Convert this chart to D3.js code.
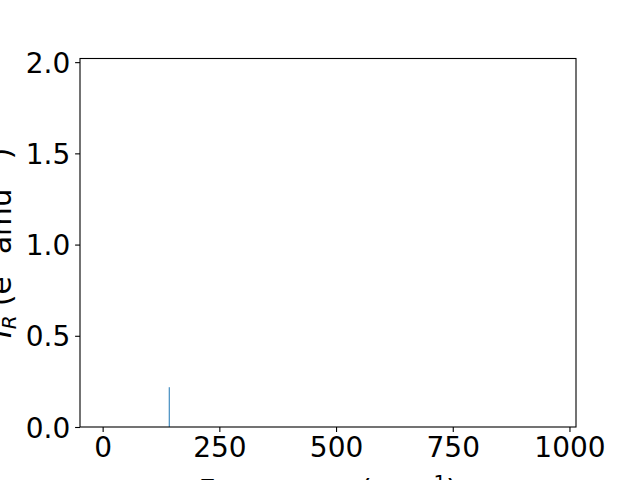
<!DOCTYPE html>
<html><head><meta charset="utf-8">
<script src="https://cdn.jsdelivr.net/npm/d3@7"></script>
<style>body{margin:0;background:#fff}svg{display:block}text{font-family:"DejaVu Sans",sans-serif}</style>
</head><body><svg id="c" width="640" height="480"></svg>
<script>
const frequencies = [142.7];
const intensities = [0.218];
const xTicks = [0, 250, 500, 750, 1000];
const yTicks = [0.0, 0.5, 1.0, 1.5, 2.0];

const W = 640, H = 480;
const m = {left: 80, right: 576, top: 58.5, bottom: 427};
const svg = d3.select("#c");
svg.append("rect").attr("width", W).attr("height", H).attr("fill", "#fff");

const x = d3.scaleLinear().domain([-48.5, 1014]).range([m.left, m.right]);
const y = d3.scaleLinear().domain([0, 2.02]).range([m.bottom, m.top]);

const fs = 28;
const lfs = 29.5;
const xAxis = d3.axisBottom(x).tickValues(xTicks).tickSize(4.9).tickPadding(4).tickFormat(d3.format("d"));
const gx = svg.append("g").attr("transform", `translate(0,${m.bottom})`).call(xAxis);
const yAxis = d3.axisLeft(y).tickValues(yTicks).tickSize(4.9).tickPadding(4.9).tickFormat(d3.format(".1f"));
const gy = svg.append("g").attr("transform", `translate(${m.left},0)`).call(yAxis);
[gx, gy].forEach(g => {
  g.select(".domain").remove();
  g.selectAll(".tick line").attr("stroke", "#000").attr("stroke-width", 1.1);
  g.selectAll(".tick text").attr("fill", "#000").style("font-size", fs + "px").style("font-family", "DejaVu Sans");
});
gx.selectAll(".tick text").attr("dy", "0.76em");
gy.selectAll(".tick text").attr("dy", "0.36em");

// data lines
svg.append("g").selectAll("line").data(frequencies).join("line")
  .attr("x1", d => x(d)).attr("x2", d => x(d))
  .attr("y1", y(0)).attr("y2", (d, i) => y(intensities[i]))
  .attr("stroke", "#1f77b4").attr("stroke-width", 1);

// frame
svg.append("rect").attr("x", m.left).attr("y", m.top)
  .attr("width", m.right - m.left).attr("height", m.bottom - m.top)
  .attr("fill", "none").attr("stroke", "#000").attr("stroke-width", 1.1);

// x label
const xl = svg.append("text").attr("x", (m.left + m.right) / 2).attr("y", 501)
  .attr("text-anchor", "middle").attr("fill", "#000").style("font-size", lfs + "px");
xl.append("tspan").text("Frequency (cm");
xl.append("tspan").attr("dy", -12).style("font-size", "20px").text("−1");
xl.append("tspan").attr("dy", 12).text(")");

// y label
const yl = svg.append("text").attr("transform", `translate(11,${(m.top + m.bottom) / 2}) rotate(-90)`)
  .attr("text-anchor", "middle").attr("fill", "#000").style("font-size", lfs + "px");
yl.append("tspan").style("font-style", "italic").text("I");
yl.append("tspan").attr("dy", 5).style("font-size", "20px").style("font-style", "italic").text("R");
yl.append("tspan").attr("dy", -5).text(" (e");
yl.append("tspan").attr("dy", -12).style("font-size", "20px").text("2");
yl.append("tspan").attr("dy", 12).text(" amu");
yl.append("tspan").attr("dy", -12).style("font-size", "20px").text("−1");
yl.append("tspan").attr("dy", 12).text(")");
</script></body></html>
